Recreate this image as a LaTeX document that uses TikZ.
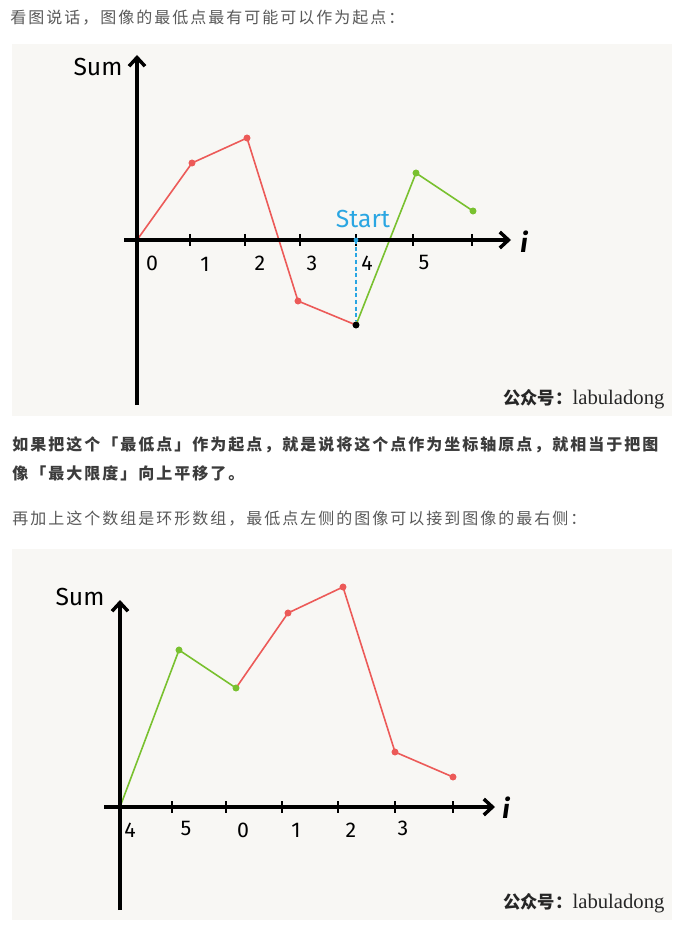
\documentclass[tikz,border=0pt]{standalone}
\usepackage{fontspec}
\setmainfont{Liberation Serif}
\newfontfamily\cjk{Noto Sans CJK SC}[LetterSpace=12.5]
\newfontfamily\cjkwm{Noto Sans CJK SC}
\newfontfamily\hand{Fira Sans}
\usetikzlibrary{arrows.meta}
\definecolor{bg}{HTML}{F8F7F4}
\definecolor{txt}{HTML}{595959}
\definecolor{btxt}{HTML}{3C3C3C}
\definecolor{myred}{HTML}{EC5A58}
\definecolor{mygreen}{HTML}{79C12F}
\definecolor{myblue}{HTML}{2AA6E2}
\begin{document}
\begin{tikzpicture}[x=0.75pt,y=-0.75pt,
  para/.style={anchor=west, inner sep=0pt, text=txt, font=\cjk\fontsize{12pt}{14pt}\selectfont},
  bpara/.style={anchor=west, inner sep=0pt, text=btxt, font=\cjk\bfseries\fontsize{12pt}{14pt}\selectfont},
  panel/.style={fill=bg, draw=none},
  axisline/.style={line width=2.6pt, -{Straight Barb[length=6.5pt,width=12pt]}},
  tickline/.style={line width=1.7pt},
  redline/.style={myred, line width=1.2pt},
  greenline/.style={mygreen, line width=1.2pt},
  reddot/.style={circle, fill=myred, inner sep=0pt, minimum size=5pt},
  greendot/.style={circle, fill=mygreen, inner sep=0pt, minimum size=5pt},
  blackdot/.style={circle, fill=black, inner sep=0pt, minimum size=5pt},
  pt/.style={inner sep=0pt, minimum size=0pt},
  numlbl/.style={inner sep=0pt, font=\hand\fontsize{16pt}{18pt}\selectfont},
  sumlbl/.style={inner sep=0pt, font=\hand\fontsize{18.5pt}{20pt}\selectfont},
  ilbl/.style={inner sep=0pt, font=\hand\bfseries\itshape\fontsize{20pt}{22pt}\selectfont},
  wm/.style={anchor=west, inner sep=0pt, text=black!85}
]
\useasboundingbox (0,0) rectangle (680,930);
\fill[white] (0,0) rectangle (680,930);

% paragraphs
\node[para] (t1) at (10,18) {看图说话，图像的最低点最有可能可以作为起点：};
\node[bpara] (t2) at (12,445) {如果把这个「最低点」作为起点，就是说将这个点作为坐标轴原点，就相当于把图};
\node[bpara] (t3) at (12,473) {像「最大限度」向上平移了。};
\node[para] (t4) at (12,519) {再加上这个数组是环形数组，最低点左侧的图像可以接到图像的最右侧：};

% ===== top panel =====
\fill[panel] (12,44) rectangle (672,416);
\node[pt] (p0) at (137,240) {};
\node[reddot] (p1) at (192,163) {};
\node[reddot] (p2) at (247,138) {};
\node[reddot] (p3) at (298,301) {};
\node[blackdot] (p4) at (356,325) {};
\node[greendot] (p5) at (416,173) {};
\node[greendot] (p6) at (473,211) {};
\draw[redline] (p0.center) -- (p1.center) -- (p2.center) -- (p3.center) -- (p4.center);
\draw[greenline] (p4.center) -- (p5.center) -- (p6.center);
\coordinate (ya0) at (137,405);
\coordinate (ya1) at (137,55);
\coordinate (xa0) at (124,240);
\coordinate (xa1) at (511,240);
\draw[axisline] (ya0) -- (ya1);
\draw[axisline] (xa0) -- (xa1);
\foreach \x in {190,245,300,356,413,472} \draw[tickline] (\x,234) -- (\x,246);
\coordinate (st) at (356,240);
\draw[myblue, line width=1pt, dash pattern=on 3pt off 2pt] (st) -- (p4);
\fill[myblue] (st) circle (1.8pt);
\node[blackdot] at (p4) {};
\node[reddot] at (p1) {};
\node[reddot] at (p2) {};
\node[reddot] at (p3) {};
\node[greendot] at (p5) {};
\node[greendot] at (p6) {};
\node[numlbl] (l0) at (152,263) {0};
\node[numlbl] (l1) at (205,264) {1};
\node[numlbl] (l2) at (260,263) {2};
\node[numlbl] (l3) at (312,263) {3};
\node[numlbl] (l4) at (367,263) {4};
\node[numlbl] (l5) at (424,262) {5};
\node[sumlbl] (sum1) at (98,67) {Sum};
\node[ilbl] (i1) at (524,242) {i};
\node[sumlbl, text=myblue] (start) at (363,219) {Start};
\node[wm] (wm1) at (503,399) {\cjkwm\bfseries\fontsize{13pt}{15pt}\selectfont 公众号：\rmfamily\mdseries\fontsize{15.5pt}{17pt}\selectfont labuladong};

% ===== bottom panel =====
\fill[panel] (12,549) rectangle (672,920);
\node[pt] (q0) at (120,807) {};
\node[greendot] (q1) at (179,650) {};
\node[greendot] (q2) at (236,688) {};
\node[reddot] (q3) at (288,613) {};
\node[reddot] (q4) at (343,587) {};
\node[reddot] (q5) at (395,752) {};
\node[reddot] (q6) at (453,777) {};
\draw[greenline] (q0.center) -- (q1.center) -- (q2.center);
\draw[redline] (q2.center) -- (q3.center) -- (q4.center) -- (q5.center) -- (q6.center);
\coordinate (yb0) at (120,910);
\coordinate (yb1) at (120,600);
\coordinate (xb0) at (104,807);
\coordinate (xb1) at (495,807);
\draw[axisline] (yb0) -- (yb1);
\draw[axisline] (xb0) -- (xb1);
\foreach \x in {172,226,282,338,395,453} \draw[tickline] (\x,801) -- (\x,813);
\node[greendot] at (q1) {};
\node[greendot] at (q2) {};
\node[reddot] at (q3) {};
\node[reddot] at (q4) {};
\node[reddot] at (q5) {};
\node[reddot] at (q6) {};
\node[numlbl] (m4) at (130,830) {4};
\node[numlbl] (m5) at (186,828) {5};
\node[numlbl] (m0) at (243,830) {0};
\node[numlbl] (m1) at (296,830) {1};
\node[numlbl] (m2) at (351,830) {2};
\node[numlbl] (m3) at (403,828) {3};
\node[sumlbl] (sum2) at (80,597) {Sum};
\node[ilbl] (i2) at (506,808) {i};
\node[wm] (wm2) at (503,903) {\cjkwm\bfseries\fontsize{13pt}{15pt}\selectfont 公众号：\rmfamily\mdseries\fontsize{15.5pt}{17pt}\selectfont labuladong};
\end{tikzpicture}
\end{document}
